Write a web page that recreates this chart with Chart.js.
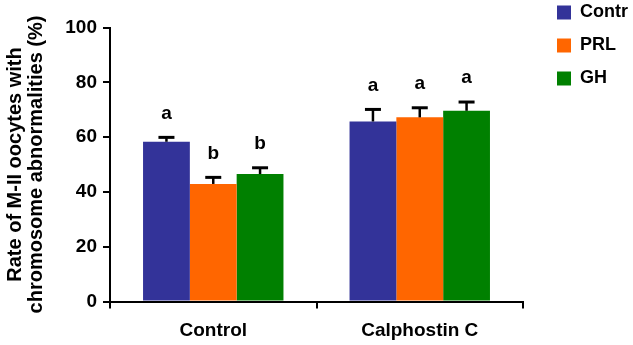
<!DOCTYPE html>
<html>
<head>
<meta charset="utf-8">
<script src="https://cdn.jsdelivr.net/npm/chart.js@4/dist/chart.umd.min.js"></script>
<style>
  html, body { margin: 0; padding: 0; background: #fff; }
  #wrap { width: 633px; height: 345px; position: relative; }
</style>
</head>
<body>
<div id="wrap"><canvas id="c" width="633" height="345"></canvas></div>
<script>
const categories = ['Control', 'Calphostin C'];
const seriesNames = ['Contr', 'PRL', 'GH'];
const contrValues = [58.3, 65.7];
const prlValues = [42.9, 67.2];
const ghValues = [46.5, 69.6];
const contrErrors = [1.6, 4.4];
const prlErrors = [2.4, 3.5];
const ghErrors = [2.3, 3.2];
const contrLetters = ['a', 'a'];
const prlLetters = ['b', 'a'];
const ghLetters = ['b', 'a'];
const yTicks = [0, 20, 40, 60, 80, 100];
const yTitle = ['Rate of M-II oocytes with', 'chromosome abnormalities (%)'];

const FONT = "'Liberation Sans', Arial, Helvetica, sans-serif";
const colors = ['#333399', '#ff6600', '#008000'];
const values = [contrValues, prlValues, ghValues];
const errors = [contrErrors, prlErrors, ghErrors];
const letters = [contrLetters, prlLetters, ghLetters];

const errorBarPlugin = {
  id: 'errorBars',
  afterDatasetsDraw(chart) {
    const ctx = chart.ctx;
    const y = chart.scales.y;
    ctx.save();
    chart.data.datasets.forEach((ds, di) => {
      const meta = chart.getDatasetMeta(di);
      meta.data.forEach((bar, i) => {
        const top = y.getPixelForValue(values[di][i] + errors[di][i]);
        ctx.strokeStyle = '#000';
        ctx.lineWidth = 2.5;
        ctx.beginPath();
        ctx.moveTo(bar.x, bar.y);
        ctx.lineTo(bar.x, top);
        ctx.stroke();
        ctx.lineWidth = 3;
        ctx.beginPath();
        ctx.moveTo(bar.x - 8, top);
        ctx.lineTo(bar.x + 8, top);
        ctx.stroke();
        ctx.fillStyle = '#000';
        ctx.font = 'bold 19px ' + FONT;
        ctx.textAlign = 'center';
        ctx.textBaseline = 'middle';
        ctx.fillText(letters[di][i], bar.x, top - 24);
      });
    });
    ctx.restore();
  }
};

const legendShift = {
  id: 'legendShift',
  beforeDraw(chart) {
    const lg = chart.legend;
    if (!lg) return;
    const pad = lg.options.labels.padding;
    const dx = 557 - (lg.left + pad);
    const dy = -11.5 - lg.top;
    lg.left += dx; lg.right += dx;
    lg.top += dy; lg.bottom += dy;
  }
};

new Chart(document.getElementById('c'), {
  type: 'bar',
  data: {
    labels: categories,
    datasets: seriesNames.map((n, i) => ({
      label: n,
      data: values[i],
      backgroundColor: colors[i],
      borderWidth: 0,
      categoryPercentage: 0.68,
      barPercentage: 1.0
    }))
  },
  options: {
    responsive: false,
    animation: false,
    layout: { padding: { left: 0, right: 14, top: 27.5, bottom: 0 } },
    plugins: {
      legend: {
        position: 'right',
        align: 'start',
        labels: {
          boxWidth: 14,
          boxHeight: 14,
          padding: 15,
          color: '#000',
          font: { family: FONT, size: 18, weight: 'bold' }
        }
      },
      tooltip: { enabled: false }
    },
    scales: {
      x: {
        grid: { display: true, drawOnChartArea: false, drawTicks: true, tickLength: 7, offset: true, color: '#000', lineWidth: 2 },
        border: { display: true, color: '#000', width: 2 },
        ticks: { color: '#000', padding: 11, font: { family: FONT, size: 19, weight: 'bold' } },
        afterFit(s) { s.height = 43.5; }
      },
      y: {
        min: 0, max: 100,
        afterBuildTicks(s) { s.ticks = yTicks.map(v => ({ value: v })); },
        grid: { display: true, drawOnChartArea: false, drawTicks: true, tickLength: 7, color: '#000', lineWidth: 2 },
        border: { display: true, color: '#000', width: 2 },
        ticks: { color: '#000', padding: 6, font: { family: FONT, size: 19, weight: 'bold' } },
        title: {
          display: true,
          text: yTitle,
          color: '#000',
          padding: { top: 5, bottom: 0 },
          font: { family: FONT, size: 20, weight: 'bold', lineHeight: 1.05 }
        },
        afterFit(s) { s.width = 110; }
      }
    }
  },
  plugins: [errorBarPlugin, legendShift]
});
</script>
</body>
</html>
